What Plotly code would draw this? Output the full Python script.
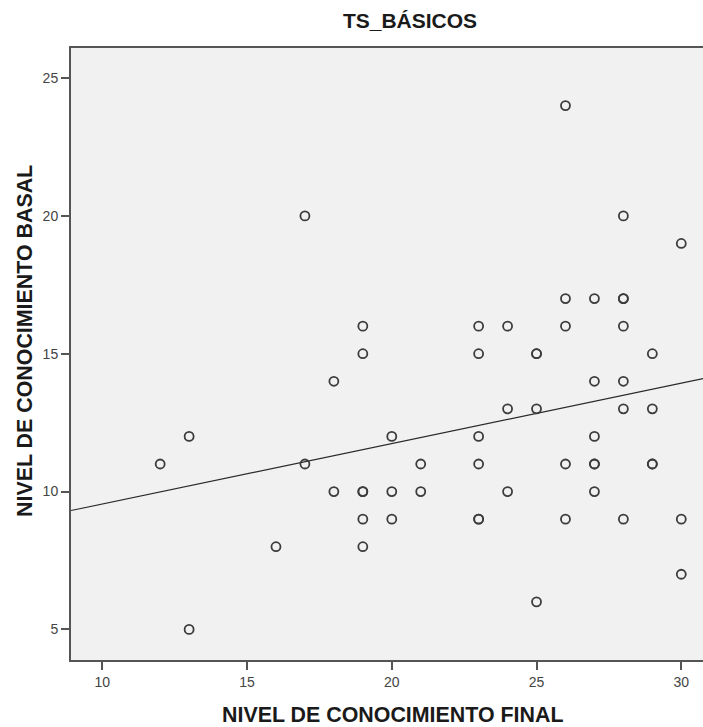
import numpy as np
import plotly.graph_objects as go

# Data (x = final level, y = basal level)
nivel_final = [12, 13, 13, 16, 17, 17, 18, 18,
               19, 19, 19, 19, 19, 19,
               20, 20, 20, 21, 21,
               23, 23, 23, 23, 23, 23,
               24, 24, 24,
               25, 25, 25, 25,
               26, 26, 26, 26, 26,
               27, 27, 27, 27, 27, 27,
               28, 28, 28, 28, 28, 28, 28,
               29, 29, 29, 29,
               30, 30, 30]
nivel_basal = [11, 12, 5, 8, 20, 11, 14, 10,
               16, 15, 10, 10, 9, 8,
               12, 10, 9, 11, 10,
               16, 15, 12, 11, 9, 9,
               16, 13, 10,
               15, 15, 13, 6,
               24, 17, 16, 11, 9,
               17, 14, 12, 11, 11, 10,
               20, 17, 17, 16, 14, 13, 9,
               15, 13, 11, 11,
               19, 9, 7]

x_ticks = [10, 15, 20, 25, 30]
y_ticks = [5, 10, 15, 20, 25]
x_range = [8.92, 30.75]
y_range = [3.89, 26.09]

# Linear fit computed from the data
slope, intercept = np.polyfit(nivel_final, nivel_basal, 1)
fit_x = np.array(x_range)
fit_y = intercept + slope * fit_x

ink = "#3c3c3c"

fig = go.Figure()
fig.add_trace(go.Scatter(
    x=fit_x, y=fit_y, mode="lines",
    line=dict(color="#2a2a2a", width=1.2),
    hoverinfo="skip", showlegend=False,
))
fig.add_trace(go.Scatter(
    x=nivel_final, y=nivel_basal, mode="markers",
    marker=dict(symbol="circle-open", size=9, color=ink,
                line=dict(color=ink, width=1.8)),
    showlegend=False,
))

fig.update_layout(
    width=703, height=727,
    margin=dict(l=71, r=0, t=48, b=67),
    paper_bgcolor="white",
    plot_bgcolor="rgb(240,241,240)",
    font=dict(family="Liberation Sans, Arial, sans-serif", color="#222"),
    title=dict(text="<b>TS_BÁSICOS</b>", x=410 / 703, xanchor="center",
               xref="container", y=1 - 21 / 727, yanchor="middle",
               yref="container",
               font=dict(size=21, color="#1a1a1a")),
    showlegend=False,
)
fig.update_xaxes(
    range=x_range, tickvals=x_ticks, ticktext=[str(v) for v in x_ticks],
    showgrid=False, zeroline=False,
    showline=True, linecolor="#555", linewidth=2, mirror=True,
    ticks="outside", ticklen=8, tickwidth=1.5, tickcolor="#555",
    tickfont=dict(size=14, color="#444"),
)
fig.update_yaxes(
    range=y_range, tickvals=y_ticks, ticktext=[str(v) for v in y_ticks],
    showgrid=False, zeroline=False,
    showline=True, linecolor="#555", linewidth=2, mirror=False,
    ticks="outside", ticklen=8, tickwidth=1.5, tickcolor="#555",
    tickfont=dict(size=14, color="#444"),
)
# Axis titles
fig.add_annotation(text="<b>NIVEL DE CONOCIMIENTO FINAL</b>", xref="paper", yref="paper",
                   x=(392 - 71) / (703 - 71), y=-(715 - 660) / (660 - 48),
                   xanchor="center", yanchor="middle", showarrow=False,
                   font=dict(size=21.4, color="#1a1a1a"))
fig.add_annotation(text="<b>NIVEL DE CONOCIMIENTO BASAL</b>", xref="paper", yref="paper",
                   x=-(71 - 25) / (703 - 71), y=(660 - 341) / (660 - 48),
                   xanchor="center", yanchor="middle", textangle=-90,
                   showarrow=False, font=dict(size=21.4, color="#1a1a1a"))

fig.write_html("out.html",
               config={"displayModeBar": False},
               post_script="document.body.style.margin='0';"
                           "document.body.style.overflow='hidden';")
